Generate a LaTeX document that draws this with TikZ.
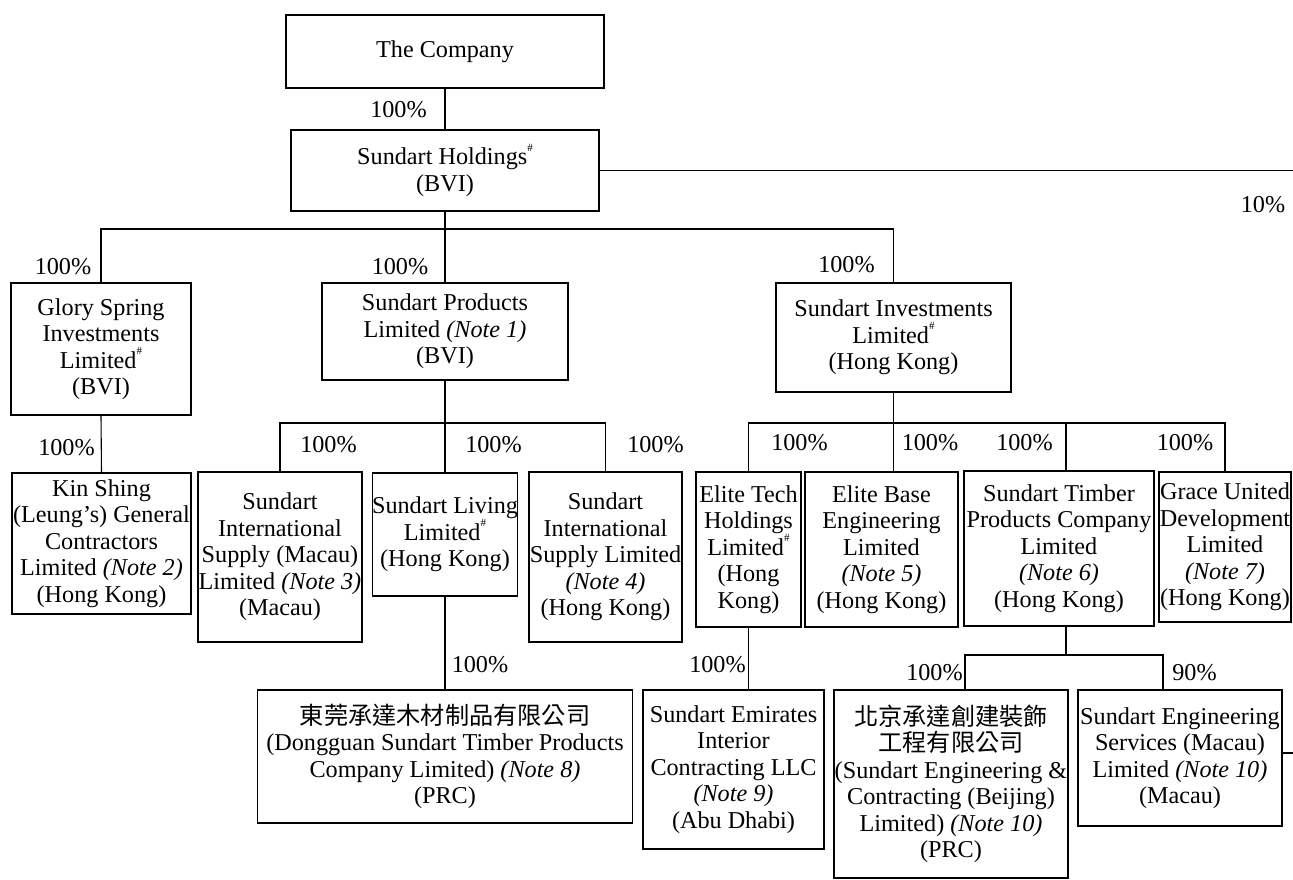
\documentclass[tikz,border=0pt]{standalone}
\usepackage{fontspec}
\setmainfont{Liberation Serif}
\newfontfamily\cjk{Noto Sans CJK TC}
\newcommand{\hs}{\raisebox{0.55em}{\fontsize{11}{11}\selectfont\#}}
\newcommand{\nt}[1]{\textit{(Note #1)}}
\begin{document}
\begin{tikzpicture}[x=1pt,y=-1pt,
  box/.style={draw, line width=1.1pt, inner sep=0pt, align=center, font=\fontsize{24.2}{26.5}\selectfont},
  lbl/.style={inner sep=0pt, font=\fontsize{24.2}{26.5}\selectfont},
  ln/.style={line width=1.1pt}]
\useasboundingbox (0,0) rectangle (1293,880);

% boxes
\node[box, minimum width=318pt, minimum height=73pt] (company) at (445,51.5) {The Company};
\node[box, minimum width=308pt, minimum height=81pt] (holdings) at (445,170.5) {Sundart Holdings\hs\\(BVI)};
\node[box, minimum width=180pt, minimum height=132pt] (glory) at (101,349) {Glory Spring\\Investments\\Limited\hs\\(BVI)};
\node[box, minimum width=246pt, minimum height=97pt] (products) at (445,331.5) {Sundart Products\\Limited \nt{1}\\(BVI)};
\node[box, minimum width=235pt, minimum height=109pt] (inv) at (893.5,337.5) {Sundart Investments\\Limited\hs\\(Hong Kong)};
\node[box, minimum width=179pt, minimum height=141pt] (kin) at (101.5,543.5) {Kin Shing\\(Leung’s) General\\Contractors\\Limited \nt{2}\\(Hong Kong)};
\node[box, minimum width=164pt, minimum height=170pt] (macau) at (280,557) {Sundart\\International\\Supply (Macau)\\Limited \nt{3}\\(Macau)};
\node[box, minimum width=145pt, minimum height=123pt] (living) at (445,534.5) {Sundart Living\\Limited\hs\\(Hong Kong)};
\node[box, minimum width=153pt, minimum height=170pt] (intl) at (605.5,557) {Sundart\\International\\Supply Limited\\\nt{4}\\(Hong Kong)};
\node[box, minimum width=375pt, minimum height=133pt] (dongguan) at (445,756.5) {{\cjk 東莞承達木材制品有限公司}\\(Dongguan Sundart Timber Products\\Company Limited) \nt{8}\\(PRC)};
\node[box, minimum width=105pt, minimum height=155pt] (etech) at (748.5,549.5) {Elite Tech\\Holdings\\Limited\hs\\(Hong\\Kong)};
\node[box, minimum width=153pt, minimum height=155pt] (ebase) at (881.5,549.5) {Elite Base\\Engineering\\Limited\\\nt{5}\\(Hong Kong)};
\node[box, minimum width=190pt, minimum height=155pt] (timber) at (1059,548.5) {Sundart Timber\\Products Company\\Limited\\\nt{6}\\(Hong Kong)};
\node[box, minimum width=132pt, minimum height=150pt] (grace) at (1225,547) {Grace United\\Development\\Limited\\\nt{7}\\(Hong Kong)};
\node[box, minimum width=181pt, minimum height=159pt] (emirates) at (733.5,769.5) {Sundart Emirates\\Interior\\Contracting LLC\\\nt{9}\\(Abu Dhabi)};
\node[box, minimum width=234pt, minimum height=188pt] (beijing) at (951,784) {{\cjk 北京承達創建裝飾}\\{\cjk 工程有限公司}\\(Sundart Engineering \&\\Contracting (Beijing)\\Limited) \nt{10}\\(PRC)};
\node[box, minimum width=204pt, minimum height=136pt] (services) at (1180,758) {Sundart Engineering\\Services (Macau)\\Limited \nt{10}\\(Macau)};

% percentage labels
\node[lbl] (p1) at (398.5,110) {100\%};
\node[lbl] (p2) at (400,267) {100\%};
\node[lbl] (p3) at (63,267) {100\%};
\node[lbl] (p4) at (846.5,265) {100\%};
\node[lbl] (p5) at (66.5,448) {100\%};
\node[lbl] (p6) at (328.5,445) {100\%};
\node[lbl] (p7) at (493.5,445) {100\%};
\node[lbl] (p8) at (655.5,445) {100\%};
\node[lbl] (p9) at (480,665) {100\%};
\node[lbl] (p10) at (799.5,443) {100\%};
\node[lbl] (p11) at (930,443) {100\%};
\node[lbl] (p12) at (1024.5,443) {100\%};
\node[lbl] (p13) at (1185,443) {100\%};
\node[lbl] (p14) at (717.5,665) {100\%};
\node[lbl] (p15) at (934.5,673) {100\%};
\node[lbl] (p16) at (1194.5,673) {90\%};
\node[lbl] (p17) at (1263,205) {10\%};

% connector coordinates
\coordinate (edgeA) at (1293,170.5);
\coordinate (b1) at (445,229);
\coordinate (b2) at (445,423);
\coordinate (b3) at (893.5,423);
\coordinate (vT) at (1066,423);
\coordinate (vT2) at (1066,655);
\coordinate (vB) at (965,655);
\coordinate (vS) at (1163,655);
\coordinate (edgeB) at (1293,753);

% connectors
\draw[ln] (company.south) -- (holdings.north);
\draw[ln] (holdings.east) -- (edgeA);
\draw[ln] (holdings.south) -- (products.north);
\draw[ln] (glory.north) |- (b1) -| (inv.north);
\draw[ln] (glory.south) -- (kin.north);
\draw[ln] (products.south) -- (living.north);
\draw[ln] (macau.north) |- (b2) -| (intl.north);
\draw[ln] (living.south) -- (dongguan.north);
\draw[ln] (inv.south) -- (inv.south |- ebase.north);
\draw[ln] (etech.north) |- (b3) -| (grace.north);
\draw[ln] (vT) -- (vT |- timber.north);
\draw[ln] (etech.south) -- (etech.south |- emirates.north);
\draw[ln] (vT2 |- timber.south) -- (vT2);
\draw[ln] (vB |- beijing.north) -- (vB) -- (vS) -- (vS |- services.north);
\draw[ln] (services.east |- edgeB) -- (edgeB);
\end{tikzpicture}
\end{document}
